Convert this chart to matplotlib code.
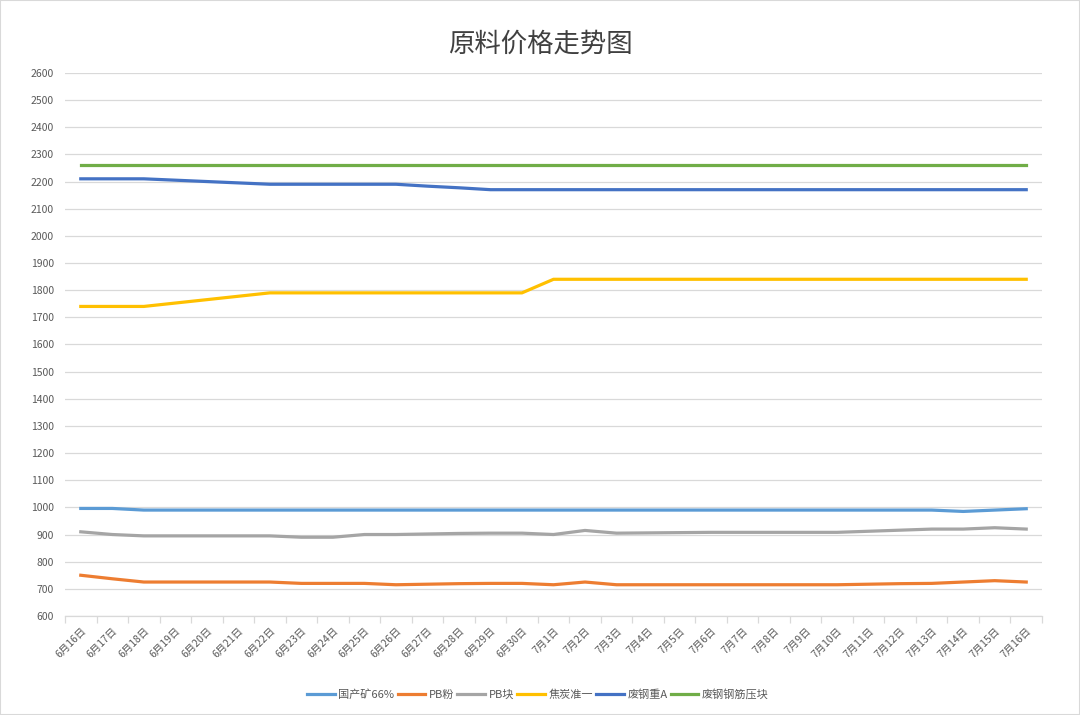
import numpy as np
import matplotlib
matplotlib.use('Agg')
import matplotlib.pyplot as plt

plt.rcParams['font.family'] = ['Noto Sans CJK SC', 'DejaVu Sans']

# categories
dates = ['6月16日','6月17日','6月18日','6月19日','6月20日','6月21日','6月22日','6月23日',
         '6月24日','6月25日','6月26日','6月27日','6月28日','6月29日','6月30日',
         '7月1日','7月2日','7月3日','7月4日','7月5日','7月6日','7月7日','7月8日',
         '7月9日','7月10日','7月11日','7月12日','7月13日','7月14日','7月15日','7月16日']

# series values
guochan66 = [996,996,990,990,990,990,990,990,990,990,990,990,990,990,990,
             990,990,990,990,990,990,990,990,990,990,990,990,990,985,990,995]
pb_fen = [750,737,725,725,725,725,725,720,720,720,715,717,719,720,720,
          715,725,715,715,715,715,715,715,715,715,717,719,720,725,730,725]
pb_kuai = [910,900,895,895,895,895,895,890,890,900,900,902,904,905,905,
           900,915,905,906,907,908,908,908,908,908,912,916,920,920,925,920]
jiaotan = [1740,1740,1740,1752.5,1765,1777.5,1790,1790,1790,1790,1790,1790,1790,1790,1790,
           1840,1840,1840,1840,1840,1840,1840,1840,1840,1840,1840,1840,1840,1840,1840,1840]
feigang_a = [2210,2210,2210,2205,2200,2195,2190,2190,2190,2190,2190,2183,2177,2170,2170,
             2170,2170,2170,2170,2170,2170,2170,2170,2170,2170,2170,2170,2170,2170,2170,2170]
feigang_yk = [2260]*31

series = [('国产矿66%', guochan66, '#5B9BD5'),
          ('PB粉', pb_fen, '#ED7D31'),
          ('PB块', pb_kuai, '#A5A5A5'),
          ('焦炭准一', jiaotan, '#FFC000'),
          ('废钢重A', feigang_a, '#4472C4'),
          ('废钢钢筋压块', feigang_yk, '#70AD47')]

fig = plt.figure(figsize=(10.8, 7.15), dpi=100)
ax = fig.add_axes([0.0602, 0.1385, 0.9046, 0.7595])

x = np.arange(len(dates))
for name, vals, col in series:
  ax.plot(x, vals, color=col, lw=2.3, label=name, solid_joinstyle='round')

ax.set_ylim(600, 2600)
ax.set_yticks(np.arange(600, 2601, 100))
ax.set_xlim(-0.5, len(dates)-0.5)
ax.set_xticks(np.arange(-0.5, len(dates), 1.0))
ax.set_xticklabels([])
ax.set_xticks(x, minor=True)
ax.set_xticklabels(dates, minor=True, rotation=45, ha='right', rotation_mode='anchor')

ax.grid(axis='y', color='#d9d9d9', lw=0.9)
ax.set_axisbelow(True)
for s in ['top', 'right', 'left']:
  ax.spines[s].set_visible(False)
ax.spines['bottom'].set_color('#d9d9d9')
ax.spines['bottom'].set_linewidth(0.9)

ax.tick_params(axis='y', length=0, labelsize=7.5, labelcolor='#595959', pad=8)
ax.tick_params(axis='x', which='major', length=5, color='#d9d9d9', width=0.9)
ax.tick_params(axis='x', which='minor', length=0, labelsize=7.5, labelcolor='#595959', pad=7)

fig.text(0.5, 0.938, '原料价格走势图', ha='center', va='center', fontsize=19, color='#404040')

leg = fig.legend(loc='center', bbox_to_anchor=(0.498, 0.029), ncol=6, frameon=False,
                 fontsize=8, handlelength=2.5, columnspacing=0.3, handletextpad=0.3)
for t in leg.get_texts():
  t.set_color('#595959')

fig.patches.append(plt.Rectangle((0, 0), 1, 1, transform=fig.transFigure, fill=False,
                                 edgecolor='#d9d9d9', lw=1.5))

fig.savefig('out.png', dpi=100)
